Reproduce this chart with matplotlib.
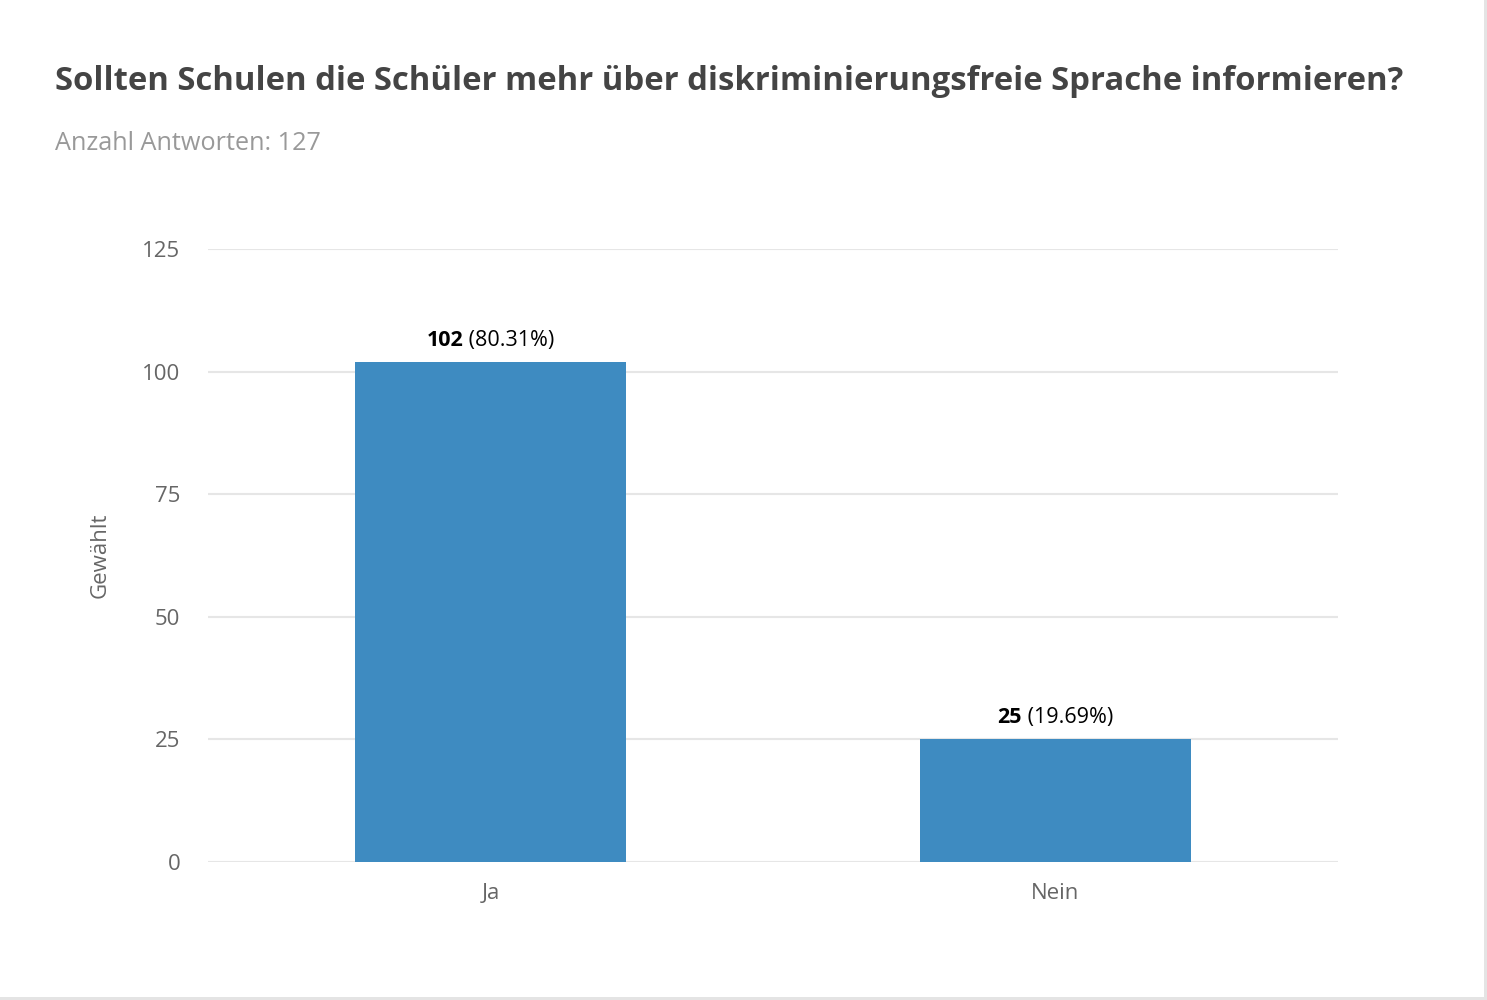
import matplotlib.pyplot as plt
from matplotlib.patches import Rectangle

categories = ["Ja", "Nein"]
votes = [102, 25]
percents = ["80.31%", "19.69%"]
total = 127

title = "Sollten Schulen die Schüler mehr über diskriminierungsfreie Sprache informieren?"
subtitle = f"Anzahl Antworten: {total}"

plt.rcParams["font.family"] = ["Open Sans", "DejaVu Sans"]

W, H, DPI = 1487, 1000, 100
fig = plt.figure(figsize=(W / DPI, H / DPI), dpi=DPI)
ax = fig.add_axes([208 / W, 0.138, (1338 - 208) / W, 0.751 - 0.138])

x = range(len(categories))
ax.bar(x, votes, width=0.48, color="#3e8bc1", zorder=2)
ax.set_xlim(-0.5, 1.5)
ax.set_ylim(0, 125)
ax.set_yticks([0, 25, 50, 75, 100, 125])
ax.set_xticks(list(x))
ax.set_xticklabels(categories)
ax.grid(axis="y", color="#e6e6e6", lw=1.5, zorder=0)
for s in ax.spines.values():
    s.set_visible(False)
ax.tick_params(length=0, labelsize=16, labelcolor="#666666")
ax.tick_params(axis="y", pad=20)
ax.tick_params(axis="x", pad=15)
ax.set_ylabel("Gewählt", fontsize=16, color="#666666")
ax.yaxis.set_label_coords(-0.086, 0.5)

fig.text(55 / W, 1 - 82 / H, title, fontsize=23.7, weight="bold",
         color="#444444", va="center", ha="left")
fig.text(55 / W, 1 - 143 / H, subtitle, fontsize=18.2, color="#999999",
         va="center", ha="left")

# value labels: bold count + normal percentage, centred over the bar
fig.canvas.draw()
r = fig.canvas.get_renderer()
for xi, v, p in zip(x, votes, percents):
    t1 = ax.annotate(str(v), (xi, v), xytext=(0, 8), textcoords="offset points",
                     fontsize=15.5, weight="bold", color="#000000", ha="left", va="bottom")
    t2 = ax.annotate(f" ({p})", (xi, v), xytext=(0, 8), textcoords="offset points",
                     fontsize=15.5, color="#000000", ha="left", va="bottom")
    w1 = t1.get_window_extent(r).width * 72 / DPI
    w2 = t2.get_window_extent(r).width * 72 / DPI
    start = -(w1 + w2) / 2
    t1.set_position((start, 8))
    t2.set_position((start + w1, 8))

# light frame at right and bottom edges of the screenshot
fig.add_artist(Rectangle((1484 / W, 0), 3 / W, 1, transform=fig.transFigure,
                         color="#e4e4e4", lw=0))
fig.add_artist(Rectangle((0, 0), 1, 3 / H, transform=fig.transFigure,
                         color="#e4e4e4", lw=0))

fig.savefig("out.png", dpi=DPI)
